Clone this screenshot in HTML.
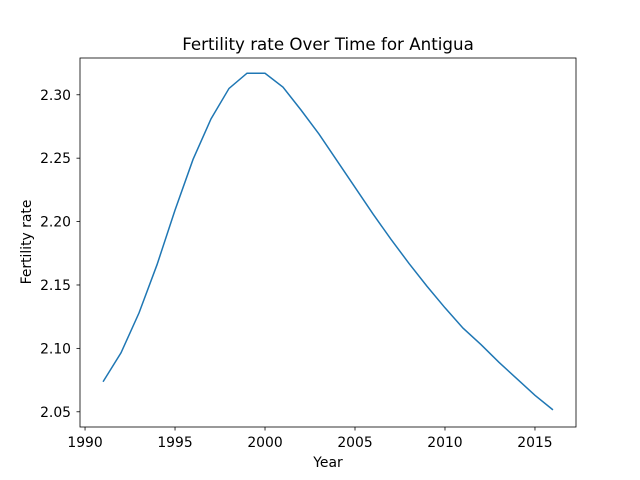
<!DOCTYPE html>
<html><head><meta charset="utf-8"><style>
body{margin:0;background:#fff;}
svg{display:block;font-family:"DejaVu Sans","Liberation Sans",sans-serif;}
</style></head><body>
<svg id="chart" width="640" height="480">
<rect width="640" height="480" fill="#fff"/>
<text x="328" y="50" font-size="16.7" text-anchor="middle">Fertility rate Over Time for Antigua</text>
<text x="328" y="467" font-size="13.9" text-anchor="middle">Year</text>
<text transform="translate(31,242) rotate(-90)" font-size="13.9" text-anchor="middle">Fertility rate</text>
<g id="ticks"></g>
<path id="line" fill="none" stroke="#1f77b4" stroke-width="1.5"/>
<rect x="80" y="58" width="496" height="369" fill="none" stroke="#000" stroke-width="0.8"/>
</svg>
<script>
const years=[1991,1992,1993,1994,1995,1996,1997,1998,1999,2000,2001,2002,2003,2004,2005,2006,2007,2008,2009,2010,2011,2012,2013,2014,2015,2016];
const rates=[2.0737,2.0965,2.128,2.166,2.209,2.249,2.281,2.305,2.317,2.317,2.306,2.288,2.269,2.248,2.227,2.206,2.186,2.167,2.149,2.132,2.116,2.103,2.089,2.076,2.063,2.0515];
const xTicks=[1990,1995,2000,2005,2010,2015];
const yTicks=[2.05,2.10,2.15,2.20,2.25,2.30];
const xMin=1989.72,xMax=2017.28,yMin=2.038,yMax=2.329;
const L=80,R=576,T=58,B=427;
const sx=v=>L+(v-xMin)/(xMax-xMin)*(R-L);
const sy=v=>B-(v-yMin)/(yMax-yMin)*(B-T);
const NS="http://www.w3.org/2000/svg";
const g=document.getElementById('ticks');
xTicks.forEach(t=>{
const l=document.createElementNS(NS,'line');
l.setAttribute('x1',sx(t));l.setAttribute('x2',sx(t));l.setAttribute('y1',B);l.setAttribute('y2',B+3.5);l.setAttribute('stroke','#000');l.setAttribute('stroke-width','0.8');


g.appendChild(l);
const tx=document.createElementNS(NS,'text');
tx.setAttribute('x',sx(t));tx.setAttribute('y',B+20);tx.setAttribute('font-size','13.9');tx.setAttribute('text-anchor','middle');tx.textContent=t;


g.appendChild(tx);
});
yTicks.forEach(t=>{
const l=document.createElementNS(NS,'line');
l.setAttribute('x1',L-3.5);l.setAttribute('x2',L);l.setAttribute('y1',sy(t));l.setAttribute('y2',sy(t));l.setAttribute('stroke','#000');l.setAttribute('stroke-width','0.8');


g.appendChild(l);
const tx=document.createElementNS(NS,'text');
tx.setAttribute('x',L-9);tx.setAttribute('y',sy(t)+5);tx.setAttribute('font-size','13.9');tx.setAttribute('text-anchor','end');tx.textContent=t.toFixed(2);


g.appendChild(tx);
});
document.getElementById('line').setAttribute('d',years.map((y,i)=>(i?'L':'M')+sx(y).toFixed(2)+','+sy(rates[i]).toFixed(2)).join(' '));
</script>
</body></html>
